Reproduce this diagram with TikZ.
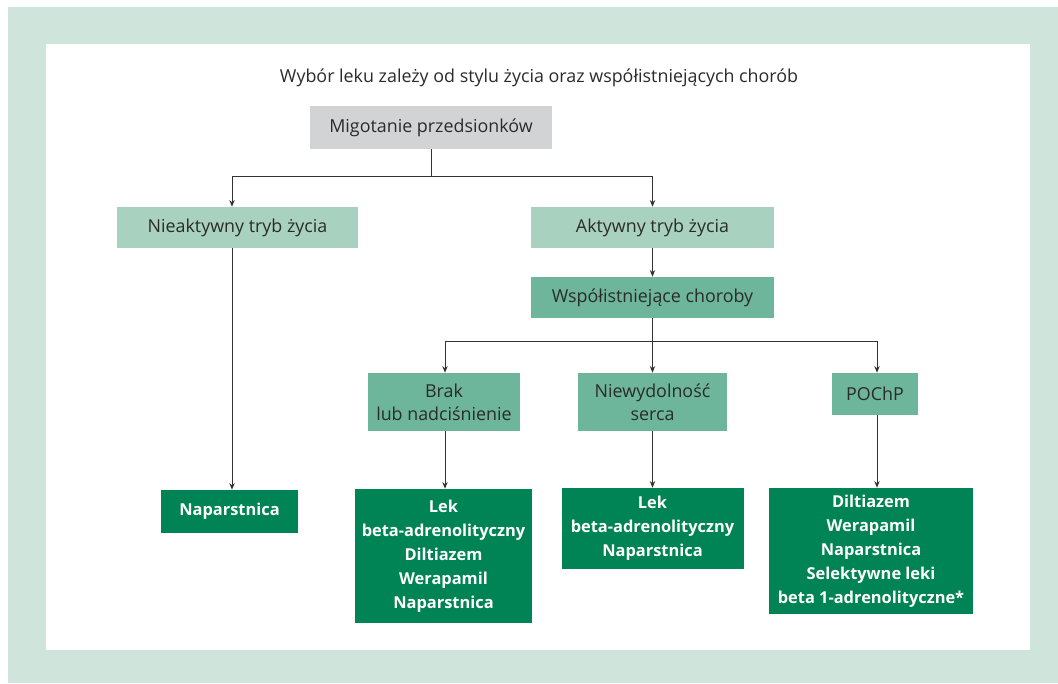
\documentclass[tikz,border=0pt]{standalone}
\usepackage{fontspec}
\setmainfont{Open Sans}
\usetikzlibrary{arrows.meta,calc}
\definecolor{bgout}{HTML}{CFE4DB}
\definecolor{boxgray}{HTML}{D2D3D5}
\definecolor{lightg}{HTML}{A8D1C0}
\definecolor{midg}{HTML}{6DB59B}
\definecolor{darkg}{HTML}{008456}
\definecolor{txt}{HTML}{2B2B2B}
\definecolor{ln}{HTML}{333333}
\tikzset{
  base/.style={rectangle, inner sep=0pt, align=center, text=txt,
    font=\fontsize{13.4}{17.25}\selectfont},
  graybox/.style={base, fill=boxgray},
  lightbox/.style={base, fill=lightg},
  midbox/.style={base, fill=midg},
  resbox/.style={base, fill=darkg, text=white,
    font=\fontsize{12.3}{18}\selectfont\bfseries},
  conn/.style={draw=ln, line width=0.75pt},
  arr/.style={conn, -{Stealth[length=5pt,width=4pt]}}
}
\begin{document}
\begin{tikzpicture}[x=0.75pt,y=-0.75pt]
\useasboundingbox (0,0) rectangle (1058,683);
\fill[white] (0,0) rectangle (1058,683);
\fill[bgout] (8,7) rectangle (1058,683);
\fill[white] (46,44) rectangle (1030,650);

\node[base] (title) at (539,78) {Wybór leku zależy od stylu życia oraz współistniejących chorób};

\node[graybox, minimum width=181.5pt, minimum height=32.25pt] (mig) at (431,127.5) {Migotanie przedsionków};
\node[lightbox, minimum width=180.75pt, minimum height=30.75pt] (nie) at (237.5,227.5) {Nieaktywny tryb życia};
\node[lightbox, minimum width=182.25pt, minimum height=30.75pt] (akt) at (652.5,227.5) {Aktywny tryb życia};
\node[midbox, minimum width=182.25pt, minimum height=30.75pt] (wsp) at (652.5,297.5) {Współistniejące choroby};
\node[midbox, minimum width=114pt, minimum height=43.5pt] (brak) at (444,402) {Brak\\lub nadciśnienie};
\node[midbox, minimum width=111.75pt, minimum height=43.5pt] (niew) at (652.5,402) {Niewydolność\\serca};
\node[midbox, minimum width=64.5pt, minimum height=31.5pt] (poc) at (875,394) {POChP};

\node[resbox, minimum width=102.75pt, minimum height=32.25pt] (r1) at (229.5,511.5) {Naparstnica};
\node[resbox, minimum width=132.75pt, minimum height=100.5pt] (r2) at (443.5,556) {Lek\\beta-adrenolityczny\\Diltiazem\\Werapamil\\Naparstnica};
\node[resbox, minimum width=136.5pt, minimum height=60.75pt] (r3) at (652.5,528.5) {Lek\\beta-adrenolityczny\\Naparstnica};
\node[resbox, minimum width=153pt, minimum height=94.5pt] (r4) at (871,551) {Diltiazem\\Werapamil\\Naparstnica\\Selektywne leki\\beta 1-adrenolityczne*};

\coordinate (j1) at (431,176);
\coordinate (nx) at (232,0);
\coordinate (j2) at (652.5,341);
\coordinate (bx) at (445,0);
\coordinate (px) at (877,0);

\draw[conn] (mig.south) -- (j1);
\draw[arr] (j1) -| (nie.north -| nx);
\draw[arr] (j1) -| (akt.north);
\draw[arr] (akt.south) -- (wsp.north);
\draw[arr] (nie.south -| nx) -- (r1.north -| nx);
\draw[conn] (wsp.south) -- (j2);
\draw[arr] (j2) -| (brak.north -| bx);
\draw[arr] (j2) -| (poc.north -| px);
\draw[arr] (wsp.south) -- (niew.north);
\draw[arr] (brak.south -| bx) -- (r2.north -| bx);
\draw[arr] (niew.south) -- (r3.north);
\draw[arr] (poc.south -| px) -- (r4.north -| px);
\end{tikzpicture}
\end{document}
